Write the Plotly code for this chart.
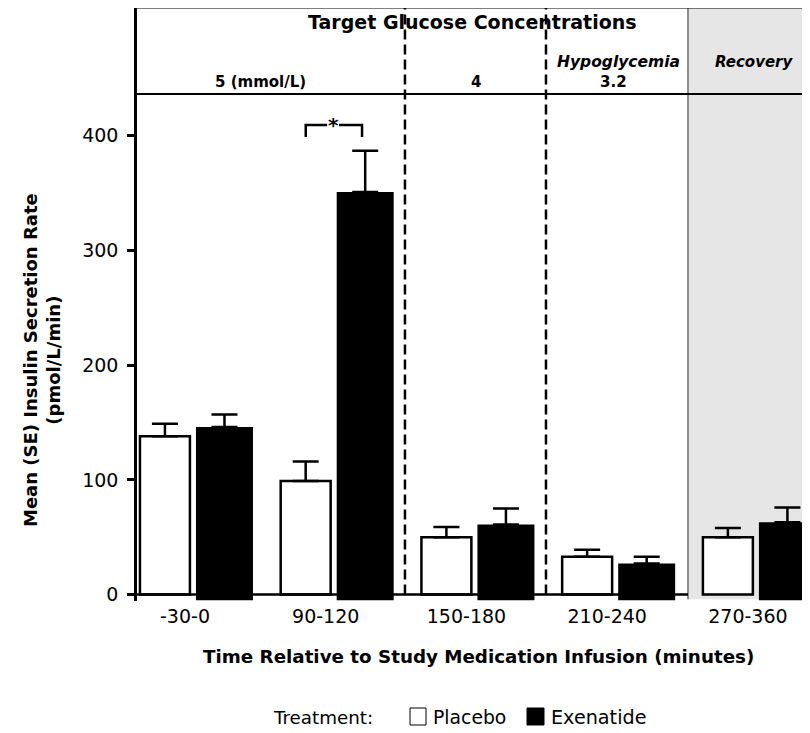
import plotly.graph_objects as go

categories = ["-30-0", "90-120", "150-180", "210-240", "270-360"]
placebo = [138, 99, 50, 33, 50]
placebo_se = [11, 17, 9, 6, 8]
exenatide = [146, 351, 61, 27, 63]
exenatide_se = [11, 36, 14, 6, 13]
y_ticks = [0, 100, 200, 300, 400]

FONT = "DejaVu Sans, Liberation Sans, Arial, sans-serif"

# page shows the figure offset by the body margin (8px)
OFF = 8
W, H = 810 - OFF, 733 - OFF
SX0, SX1 = 137, 810      # plot area in screen pixels (x)
SY0, SY1 = 8, 601        # plot area in screen pixels (y)
L = SX0 - OFF
T = SY0 - OFF
B = H - (SY1 - OFF)
PW = SX1 - SX0
PH = SY1 - SY0
YMIN, YMAX = -5.6, 511.4
XMIN, XMAX = -0.341, 4.441

fig = go.Figure()

BASE_SHIFT = 5
fig.add_trace(go.Bar(
    x=categories, y=placebo, name="Placebo",
    offset=-0.32, width=0.355,
    marker=dict(color="white", line=dict(color="black", width=2.5)),
    error_y=dict(type="data", array=placebo_se, arrayminus=[0] * len(placebo_se),
                 symmetric=False, color="black", thickness=2.5, width=13),
))
fig.add_trace(go.Bar(
    x=categories, y=[v + BASE_SHIFT for v in exenatide], name="Exenatide",
    offset=0.078, width=0.405, base=-BASE_SHIFT,
    marker=dict(color="black", line=dict(color="black", width=0)),
    error_y=dict(type="data", array=exenatide_se, arrayminus=[0] * len(exenatide_se),
                 symmetric=False, color="black", thickness=2.5, width=13),
))

def px2x(px):
    return (px - SX0) / PW

def py2y(py):
    return (SY1 - py) / PH

shapes = []
rec_x0 = 3.574
shapes.append(dict(type="rect", xref="x", yref="y", x0=rec_x0, x1=5, y0=-4, y1=YMAX,
                   fillcolor="#e6e6e6", line=dict(width=0), layer="below"))
shapes.append(dict(type="line", xref="x", yref="y", x0=rec_x0, x1=rec_x0, y0=-4, y1=YMAX,
                   line=dict(color="#6e6e6e", width=1.5), layer="below"))
shapes.append(dict(type="line", xref="x", yref="y", x0=XMIN, x1=rec_x0, y0=0, y1=0,
                   line=dict(color="black", width=2.5)))
shapes.append(dict(type="line", xref="paper", yref="paper", x0=0, x1=1,
                   y0=py2y(7), y1=py2y(7), line=dict(color="black", width=3)))
shapes.append(dict(type="line", xref="paper", yref="y", x0=0, x1=1, y0=436.4, y1=436.4,
                   line=dict(color="black", width=2)))
for xd in (1.563, 2.565):
    shapes.append(dict(type="line", xref="x", yref="y", x0=xd, x1=xd, y0=0, y1=YMAX,
                       line=dict(color="black", width=2.5, dash="10px,5px")))
bl, br, sx = 1 - 0.142, 1.258, 1.05
shapes.append(dict(type="path", xref="x", yref="y",
                   path=f"M {bl},399 L {bl},409.4 L {sx-0.04},409.4",
                   line=dict(color="black", width=2.5)))
shapes.append(dict(type="path", xref="x", yref="y",
                   path=f"M {sx+0.045},409.4 L {br},409.4 L {br},399",
                   line=dict(color="black", width=2.5)))
shapes.append(dict(type="rect", xref="paper", yref="paper",
                   x0=px2x(410), x1=px2x(426), y0=py2y(725), y1=py2y(708),
                   fillcolor="white", line=dict(color="black", width=1)))
shapes.append(dict(type="rect", xref="paper", yref="paper",
                   x0=px2x(527), x1=px2x(544), y0=py2y(725), y1=py2y(708),
                   fillcolor="black", line=dict(color="black", width=1)))

ann = []
def text(px, py, s, size, bold=False, italic=False, xanchor="center"):
    if bold:
        s = f"<b>{s}</b>"
    if italic:
        s = f"<i>{s}</i>"
    ann.append(dict(xref="paper", yref="paper", x=px2x(px), y=py2y(py), text=s,
                    showarrow=False, xanchor=xanchor, yanchor="middle",
                    font=dict(family=FONT, size=size, color="black")))

text(472, 22, "Target Glucose Concentrations", 19, bold=True)
text(260, 82, "5 (mmol/L)", 15, bold=True)
text(476, 82, "4", 15, bold=True)
text(618, 62, "Hypoglycemia", 15.5, bold=True, italic=True)
text(613, 82, "3.2", 15, bold=True)
text(754, 62, "Recovery", 15, bold=True, italic=True)
text(333, 125, "*", 20, bold=True)
text(478, 656, "Time Relative to Study Medication Infusion (minutes)", 18.3, bold=True)
text(271, 717, "Treatment:", 18.3, xanchor="left")
text(431, 717, "Placebo", 18.8, xanchor="left")
text(549, 717, "Exenatide", 19.2, xanchor="left")

ann.append(dict(xref="paper", yref="paper", x=px2x(42), y=py2y(360),
                text="<b>Mean (SE) Insulin Secretion Rate<br>(pmol/L/min)</b>",
                textangle=-90, showarrow=False, xanchor="center", yanchor="middle",
                font=dict(family=FONT, size=18, color="black")))

fig.update_layout(
    width=W, height=H,
    margin=dict(l=L, r=0, t=T, b=B, pad=0),
    paper_bgcolor="white", plot_bgcolor="white",
    showlegend=False, barmode="overlay",
    shapes=shapes, annotations=ann,
    font=dict(family=FONT, size=18, color="black"),
)
fig.update_xaxes(
    type="category", range=[XMIN, XMAX], showgrid=False, zeroline=False,
    showline=False, ticks="", tickfont=dict(family=FONT, size=19, color="black"),
    ticklabelstandoff=2,
)
fig.update_yaxes(
    range=[YMIN, YMAX], showgrid=False, zeroline=False,
    showline=True, linecolor="black", linewidth=2.5,
    ticks="outside", ticklen=7, tickwidth=2.5, tickcolor="black",
    tickvals=y_ticks, tickfont=dict(family=FONT, size=19, color="black"),
    ticklabelstandoff=5,
)

fig.write_html("out.html")
